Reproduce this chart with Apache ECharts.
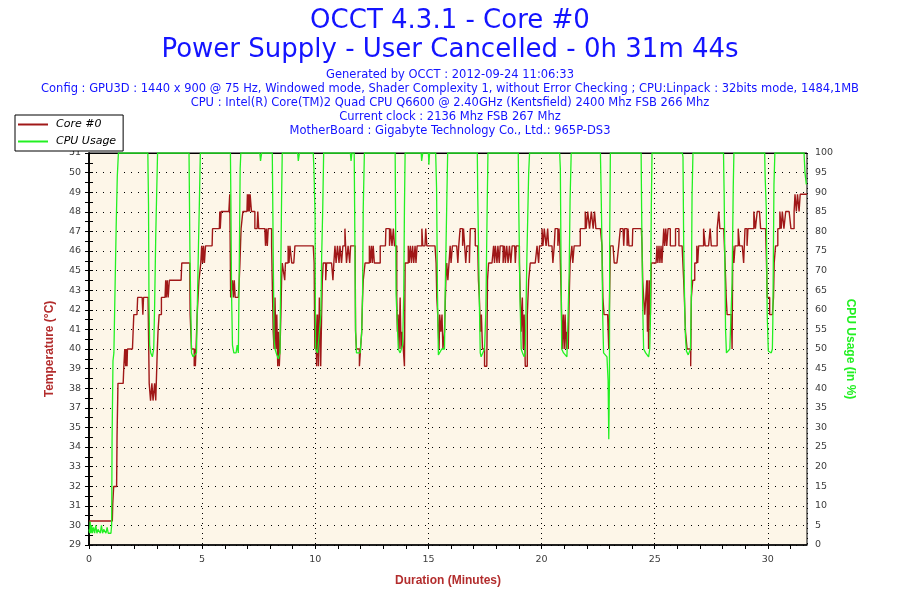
<!DOCTYPE html>
<html>
<head>
<meta charset="utf-8">
<script src="https://cdn.jsdelivr.net/npm/echarts@6/dist/echarts.min.js"></script>
<style>
html,body{margin:0;padding:0;background:#fff;}
#chart{width:900px;height:600px;}
</style>
</head>
<body>
<div id="chart"></div>
<script>
// ---------- texts ----------
var titleLine1 = 'OCCT 4.3.1 - Core #0';
var titleLine2 = 'Power Supply - User Cancelled - 0h 31m 44s';
var infoLines = [
  'Generated by OCCT : 2012-09-24 11:06:33',
  'Config : GPU3D : 1440 x 900 @ 75 Hz, Windowed mode, Shader Complexity 1, without Error Checking ; CPU:Linpack : 32bits mode, 1484,1MB',
  'CPU : Intel(R) Core(TM)2 Quad CPU Q6600 @ 2.40GHz (Kentsfield) 2400 Mhz FSB 266 Mhz',
  'Current clock : 2136 Mhz FSB 267 Mhz',
  'MotherBoard : Gigabyte Technology Co., Ltd.: 965P-DS3'
];
var seriesNames = ['Core #0', 'CPU Usage'];
var xAxisTitle = 'Duration (Minutes)';
var leftAxisTitle = 'Temperature (\u00B0C)';
var rightAxisTitle = 'CPU Usage (in %)';

// ---------- axes ----------
var durationMax = 31.73;               // 31m 44s
var tempMin = 28.6, tempStep = 1.14;   // 20 intervals
var tempTickLabels = ['29','30','31','32','33','34','35','37','38','39','40','41','42','43','45','46','47','48','49','50','51'];
var cpuMin = 0, cpuMax = 100, cpuStep = 5;

// ---------- data: [minutes, value] ----------
var coreTemp = [
 [0,30],[1.03,30],[1.05,31],[1.09,32],[1.22,32],[1.24,35],[1.28,38],[1.51,38],[1.54,39],[1.58,40],[1.62,39],[1.64,40],[1.68,39],[1.7,40],[1.92,40],[1.95,41],[1.98,42],[2.12,42],[2.15,43],[2.35,43],[2.38,42],[2.41,43],[2.61,43],
 [2.64,40],[2.66,38],[2.72,37],[2.78,38],[2.83,37],[2.9,38],[2.95,37],[2.99,37],[3.02,40],[3.05,41],[3.1,42],[3.2,43],[3.36,43],[3.39,44],[3.42,43],[3.46,44],[3.5,43],[3.55,44],[4.07,44],[4.1,45],[4.45,45],
 [4.47,42],[4.5,41],[4.53,40],[4.6,40],[4.65,39],[4.68,40],[4.7,39],[4.73,40],[4.78,42],[4.82,42],[4.86,44],[4.9,44],[4.94,45],[4.98,46],[5.02,45],[5.06,46],[5.1,45],[5.15,46],[5.44,46],[5.46,47],[5.76,47],[5.78,48],[5.8,47],[5.84,48],[6.18,48],[6.22,49],
 [6.26,43],[6.3,43],[6.34,44],[6.38,43],[6.42,44],[6.46,43],[6.6,43],[6.64,44],[6.67,45],[6.72,47],[6.8,48],[6.98,48],[7.0,49],[7.03,48],[7.06,49],[7.09,48],[7.12,49],[7.18,48],[7.25,48],[7.33,47],[7.43,47],[7.46,48],[7.5,47],[7.77,47],[7.8,46],[7.84,47],[7.88,46],[7.92,47],[8.0,47],[8.07,46],[8.12,46],
 [8.14,41],[8.18,40],[8.22,43],[8.26,40],[8.3,42],[8.34,39],[8.37,41],[8.41,39],[8.44,40],[8.48,42],[8.51,44],[8.54,45],[8.62,45],[8.65,44],[8.68,45],[8.8,46],[8.84,45],[8.88,46],[8.96,45],[9.05,45],[9.1,46],[9.91,46],
 [9.95,45],[9.98,40],[10.02,42],[10.06,39],[10.1,42],[10.14,39],[10.18,43],[10.24,39],[10.28,42],[10.31,44],[10.35,45],[10.4,45],[10.46,44],[10.5,45],[10.72,45],[10.78,44],[10.82,45],[10.87,46],[10.92,45],[10.98,46],[11.05,45],[11.09,46],[11.16,45],[11.22,46],[11.31,47],[11.34,46],[11.38,45],[11.45,46],[11.52,45],[11.56,46],[11.76,46],
 [11.78,41],[11.82,40],[11.9,40],[11.95,39],[12.0,40],[12.05,41],[12.09,43],[12.12,44],[12.2,45],[12.39,46],[12.43,45],[12.48,46],[12.52,45],[12.56,46],[12.61,45],[12.87,46],[13.1,46],[13.12,47],[13.2,47],[13.28,46],[13.33,47],[13.39,46],[13.45,47],[13.5,46],[13.55,46],
 [13.6,43],[13.63,41],[13.66,42],[13.7,40],[13.75,43],[13.79,40],[13.84,41],[13.89,40],[13.94,39],[13.97,45],[14.05,45],[14.11,46],[14.15,45],[14.2,46],[14.25,45],[14.3,46],[14.35,45],[14.41,46],[14.45,45],[14.5,46],[14.71,47],[14.75,46],[14.85,46],[14.88,47],[14.93,46],[15.29,46],
 [15.34,45],[15.37,43],[15.41,42],[15.47,40],[15.5,42],[15.55,41],[15.6,42],[15.64,40],[15.71,41],[15.74,41],[15.77,44],[15.81,45],[15.86,44],[15.91,45],[15.96,46],[16.0,45],[16.06,46],[16.25,46],[16.3,45],[16.34,46],[16.4,47],[16.47,47],[16.51,46],[16.55,47],[16.62,47],[16.65,45],[16.7,46],[16.77,46],[16.81,45],[16.85,47],[17.07,46],[17.18,46],
 [17.21,44],[17.25,43],[17.3,41],[17.34,42],[17.39,40],[17.44,40],[17.48,39],[17.58,39],[17.61,44],[17.66,45],[17.81,45],[17.88,46],[17.92,45],[17.96,46],[18.03,45],[18.07,46],[18.13,45],[18.17,46],[18.25,46],[18.3,45],[18.36,46],[18.4,45],[18.46,46],[18.52,45],[18.58,46],[18.64,45],[18.7,46],[18.81,46],[18.84,45],[18.88,46],[18.96,46],[19.02,45],
 [19.06,43],[19.1,41],[19.15,43],[19.19,40],[19.23,42],[19.28,39],[19.32,39],[19.37,42],[19.43,44],[19.5,45],[19.72,45],[19.8,46],[19.87,45],[19.91,46],[20.02,47],[20.06,46],[20.12,47],[20.2,46],[20.27,47],[20.31,46],[20.46,46],[20.5,45],[20.56,46],[20.6,47],[20.68,47],[20.72,46],[20.77,47],[20.81,46],
 [20.87,43],[20.91,40],[20.96,42],[21.0,40],[21.04,42],[21.09,40],[21.13,41],[21.18,40],[21.22,43],[21.26,45],[21.34,46],[21.38,45],[21.44,46],[21.71,47],[21.93,48],[21.97,47],[22.04,48],[22.12,47],[22.2,48],[22.28,47],[22.34,48],[22.4,47],[22.6,47],
 [22.67,46],[22.71,43],[22.76,42],[22.92,42],[22.97,40],[23.01,40],[23.04,46],[23.16,46],[23.21,45],[23.33,45],[23.41,46],[23.48,47],[23.6,47],[23.63,46],[23.67,47],[23.74,47],[23.78,46],[23.82,47],[23.86,46],[24.01,46],[24.03,47],[24.41,47],[24.44,46],
 [24.47,44],[24.51,43],[24.56,42],[24.62,42],[24.65,44],[24.68,41],[24.7,44],[24.73,40],[24.78,44],[24.81,42],[24.85,45],[25.06,45],[25.1,46],[25.14,45],[25.19,46],[25.23,45],[25.28,46],[25.32,45],[25.4,47],[25.44,46],[25.49,47],[25.53,46],[25.59,47],[25.65,47],[25.69,46],[25.92,47],[26.0,47],[26.07,46],[26.21,46],
 [26.28,44],[26.31,43],[26.36,41],[26.43,40],[26.51,40],[26.59,39],[26.62,43],[26.68,44],[26.77,45],[26.86,46],[26.9,45],[26.94,46],[27.16,47],[27.23,46],[27.38,46],[27.45,47],[27.5,46],[27.76,47],[27.83,48],[27.88,47],[28.05,47],
 [28.11,45],[28.16,43],[28.2,42],[28.39,42],[28.42,40],[28.45,46],[28.5,45],[28.55,46],[28.69,47],[28.75,46],[28.87,46],[28.93,45],[28.99,47],[29.08,46],[29.12,47],[29.38,48],[29.45,47],[29.53,48],[29.63,48],[29.68,47],[29.9,47],
 [29.94,45],[29.97,43],[30.08,42],[30.2,42],[30.25,43],[30.28,45],[30.34,46],[30.44,47],[30.53,48],[30.59,47],[30.64,48],[30.71,47],[30.79,48],[30.94,48],[31.02,47],[31.1,47],[31.16,48],[31.2,49],[31.26,48],[31.31,49],[31.38,48],[31.43,49],[31.73,49]
];

var cpuUsage = [
 [0,4],[0.03,3],[0.05,6],[0.08,3],[0.12,5],[0.15,3],[0.2,4.5],[0.25,3],[0.3,5],[0.35,3],[0.4,4],[0.45,3.5],[0.5,3],[0.55,5],[0.6,3],[0.65,4],[0.7,4],[0.75,3],[0.8,4.5],[0.85,3],[0.9,3.5],[0.97,3],[1.0,5],
 [1.02,27],[1.06,47],[1.1,49],[1.14,62],[1.2,81],[1.25,94],[1.3,100],
 [2.6,100],[2.63,87],[2.65,63],[2.68,51],[2.73,49],[2.8,48],[2.86,50],[2.9,61],[2.95,79],[3.03,100],
 [4.42,100],[4.46,75],[4.5,60],[4.53,49],[4.6,48],[4.75,49],[4.79,62],[4.84,77],[4.88,88],[4.92,100],
 [6.25,100],[6.27,88],[6.3,64],[6.34,51],[6.4,49],[6.5,49],[6.55,51],[6.6,49],[6.64,71],[6.68,96],[6.71,100],
 [7.55,100],[7.58,98],[7.63,100],
 [8.1,100],[8.14,75],[8.18,52],[8.22,50],[8.3,48.5],[8.37,47.5],[8.44,49],[8.47,67],[8.51,88],[8.54,100],
 [9.22,100],[9.25,98],[9.3,100],
 [9.91,100],[9.94,96],[9.99,84],[10.01,50],[10.1,49],[10.18,49],[10.25,59],[10.28,73],[10.33,86],[10.37,100],
 [11.55,100],[11.58,98],[11.62,100],
 [11.72,100],[11.78,55],[11.82,49],[11.9,48.5],[11.98,49],[12.05,54],[12.09,64],[12.12,86],[12.17,100],
 [13.53,100],[13.57,64],[13.62,57],[13.67,50],[13.75,49],[13.82,48.5],[13.86,51],[13.91,64],[13.94,86],[13.97,100],
 [14.68,100],[14.7,98],[14.75,100],[15.0,100],[15.02,97],[15.05,100],
 [15.32,100],[15.36,91],[15.4,64],[15.44,48.5],[15.52,48],[15.59,50],[15.65,49.5],[15.71,50],[15.74,64],[15.81,87],[15.85,100],
 [17.16,100],[17.18,89],[17.26,59],[17.29,49],[17.33,48],[17.4,49],[17.48,50],[17.54,60],[17.58,79],[17.63,100],
 [18.97,100],[18.99,87],[19.05,62],[19.1,50],[19.16,49],[19.23,48],[19.28,49],[19.35,73],[19.43,95],[19.47,100],
 [20.8,100],[20.83,96],[20.86,72],[20.89,50],[20.97,49],[21.05,48.6],[21.12,48],[21.16,56],[21.22,70],[21.26,88],[21.31,100],
 [22.6,100],[22.63,91],[22.67,76],[22.7,59],[22.74,49],[22.82,49],[22.89,48],[22.94,42],[22.97,27],[23.0,42],[23.01,77],[23.04,100],
 [24.4,100],[24.42,86],[24.47,61],[24.51,50],[24.6,49],[24.66,48.5],[24.73,48],[24.78,50],[24.81,57],[24.85,86],[24.88,100],
 [26.22,100],[26.25,99],[26.28,77],[26.33,59],[26.36,53],[26.4,49.5],[26.48,48.5],[26.55,49],[26.58,50],[26.62,64],[26.65,89],[26.69,100],
 [28.04,100],[28.07,89],[28.13,55],[28.17,49],[28.25,48.5],[28.32,50],[28.39,49.5],[28.42,67],[28.47,91],[28.5,100],
 [29.86,100],[29.88,94],[29.93,86],[29.97,59],[30.02,49.5],[30.1,49],[30.15,49],[30.2,50],[30.22,57],[30.27,92],[30.31,100],
 [31.6,100],[31.64,95],[31.7,92],[31.73,92]
];

// ---------- styles ----------
var BLUE = '#1414ff';
var RED = '#a01818';
var GREEN = '#22f022';
var TITLE_RED = '#b32d2d';
var LABEL = '#3c3c3c';

var chart = echarts.init(document.getElementById('chart'), null, {renderer: 'canvas'});

var titles = [
  {text: titleLine1, left: 'center', top: 8, padding: 0, textStyle: {fontFamily: 'DejaVu Sans', fontSize: 26, fontWeight: 'normal', color: BLUE}},
  {text: titleLine2, left: 'center', top: 37, padding: 0, textStyle: {fontFamily: 'DejaVu Sans', fontSize: 26, fontWeight: 'normal', color: BLUE}}
];
infoLines.forEach(function (t, i) {
  titles.push({text: t, left: 'center', top: 69 + i * 14, padding: 0,
    textStyle: {fontFamily: 'DejaVu Sans', fontSize: 11.5, fontWeight: 'normal', color: BLUE}});
});

var tempMax = tempMin + 20 * tempStep;

var option = {
  animation: false,
  backgroundColor: '#ffffff',
  title: titles,
  legend: {
    orient: 'vertical', left: 15, top: 115,
    itemWidth: 30, itemHeight: 2, itemGap: 6,
    padding: [4, 7, 4, 3],
    backgroundColor: '#ffffff', borderColor: '#000', borderWidth: 1,
    textStyle: {fontFamily: 'DejaVu Sans', fontSize: 11, fontStyle: 'italic', color: '#000', padding: [0, 0, 0, 3]},
    data: [{name: seriesNames[0], icon: 'rect'}, {name: seriesNames[1], icon: 'rect'}]
  },
  grid: {left: 89, right: 93, top: 153, bottom: 55, show: true, backgroundColor: '#fdf6e8', borderColor: '#000', borderWidth: 1},
  xAxis: [
    { // minute ticks + labels
      type: 'value', min: 0, max: durationMax, interval: 1, position: 'bottom',
      name: xAxisTitle, nameLocation: 'middle', nameGap: 30,
      nameTextStyle: {fontFamily: 'Liberation Sans', fontWeight: 'bold', fontSize: 12, color: TITLE_RED},
      axisLine: {lineStyle: {color: '#000', width: 1.5}},
      axisTick: {length: 4, lineStyle: {color: '#000'}},
      axisLabel: {fontFamily: 'DejaVu Sans', fontSize: 9.5, color: LABEL, margin: 10,
        showMaxLabel: false,
        formatter: function (v) { return (Math.abs(v % 5) < 1e-6) ? String(Math.round(v)) : ''; }},
      splitLine: {show: false}
    },
    { // 5-minute vertical grid, top border
      type: 'value', min: 0, max: durationMax, interval: 5, position: 'top',
      axisLine: {lineStyle: {color: '#000', width: 1}},
      axisTick: {show: false}, axisLabel: {show: false},
      splitLine: {show: true, lineStyle: {color: '#000', width: 1, type: [1, 4]}}
    }
  ],
  yAxis: [
    {
      type: 'value', min: tempMin, max: tempMax, interval: tempStep, position: 'left',
      name: leftAxisTitle, nameLocation: 'middle', nameGap: 33,
      nameTextStyle: {fontFamily: 'Liberation Sans', fontWeight: 'bold', fontSize: 12, color: TITLE_RED},
      axisLine: {show: true, lineStyle: {color: '#000', width: 1.5}},
      axisTick: {show: true, length: 4, lineStyle: {color: '#000'}},
      minorTick: {show: true, splitNumber: 2, length: 4, lineStyle: {color: '#000'}},
      axisLabel: {fontFamily: 'DejaVu Sans', fontSize: 9.5, color: LABEL, margin: 8,
        formatter: function (v) { return tempTickLabels[Math.round((v - tempMin) / tempStep)] || ''; }},
      splitLine: {show: true, lineStyle: {color: '#000', width: 1, type: [1, 6]}}
    },
    {
      type: 'value', min: cpuMin, max: cpuMax, interval: cpuStep, position: 'right',
      name: rightAxisTitle, nameLocation: 'middle', nameGap: 35, nameRotate: -90,
      nameTextStyle: {fontFamily: 'Liberation Sans', fontWeight: 'bold', fontSize: 12, color: GREEN},
      axisLine: {show: true, lineStyle: {color: '#000', width: 1.5}},
      axisTick: {show: true, length: 4, lineStyle: {color: '#000'}},
      minorTick: {show: true, splitNumber: 2, length: 4, lineStyle: {color: '#000'}},
      axisLabel: {fontFamily: 'DejaVu Sans', fontSize: 9.5, color: LABEL, margin: 8},
      splitLine: {show: false}
    }
  ],
  series: [
    {
      name: seriesNames[0], type: 'line', xAxisIndex: 0, yAxisIndex: 0,
      step: 'end', showSymbol: false, symbol: 'none',
      lineStyle: {color: RED, width: 1.4}, itemStyle: {color: RED},
      data: coreTemp, z: 3
    },
    {
      name: seriesNames[1], type: 'line', xAxisIndex: 0, yAxisIndex: 1,
      showSymbol: false, symbol: 'none',
      lineStyle: {color: GREEN, width: 1.3}, itemStyle: {color: GREEN},
      data: cpuUsage, z: 4
    }
  ]
};
chart.setOption(option);
</script>
</body>
</html>
